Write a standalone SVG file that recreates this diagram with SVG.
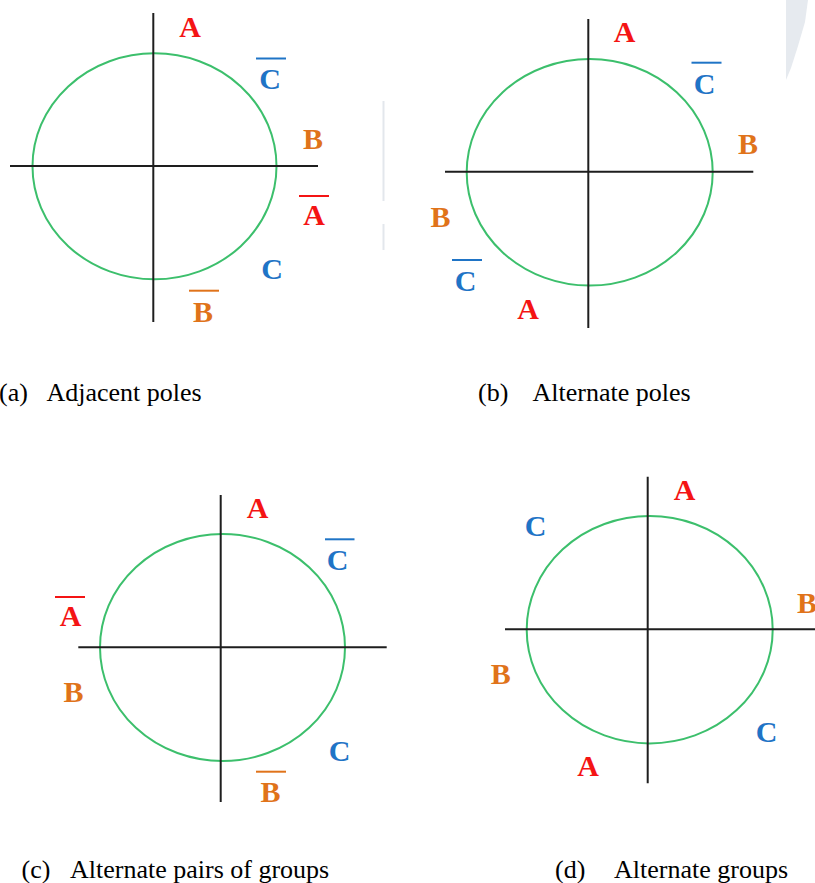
<svg xmlns="http://www.w3.org/2000/svg" width="815" height="883" viewBox="0 0 815 883">
<style>
.ring{fill:none;stroke:#3cbf6c;stroke-width:2}
.ax{stroke:#1e1e1e;stroke-width:2;fill:none}
.lbl{font-size:30px;font-weight:bold;text-anchor:middle}
.ra{fill:#f41414}.ob{fill:#e0731a}.bc{fill:#1f74c6}
.ovr{stroke:#f41414;stroke-width:2}.ovo{stroke:#e0731a;stroke-width:2}.ovb{stroke:#1f74c6;stroke-width:2}
.cap{font-size:26px;fill:#000}
.art{fill:#e6eaef;stroke:none}
</style>
<rect width="815" height="883" fill="#fff"/>
<g id="artifacts">
<path class="art" d="M786,0 L808,0 L805,22 L798,46 L791,68 L786,80 Z"/>
<line x1="383.5" y1="101" x2="383.5" y2="201" stroke="#e3e7ec" stroke-width="2"/>
<line x1="383.5" y1="224" x2="383.5" y2="250" stroke="#e3e7ec" stroke-width="2"/>
</g>
<g id="diagram-a" font-family="Liberation Serif, DejaVu Serif, Times New Roman, serif">
<ellipse class="ring" cx="154.5" cy="166.3" rx="122" ry="113"/>
<line class="ax" x1="153.3" y1="13" x2="153.3" y2="322"/>
<line class="ax" x1="10" y1="166" x2="318" y2="166"/>
<text class="lbl ra" x="190" y="37">A</text>
<line class="ovb" x1="256" y1="58.5" x2="286" y2="58.5"/><text class="lbl bc" x="270" y="89">C</text>
<text class="lbl ob" x="313" y="149">B</text>
<line class="ovr" x1="299" y1="196" x2="329" y2="196"/><text class="lbl ra" x="314" y="225">A</text>
<text class="lbl bc" x="272" y="279">C</text>
<line class="ovo" x1="189" y1="290.7" x2="219" y2="290.7"/><text class="lbl ob" x="203" y="322">B</text>
</g>
<g id="diagram-b" font-family="Liberation Serif, DejaVu Serif, Times New Roman, serif">
<ellipse class="ring" cx="589.7" cy="172.3" rx="123" ry="113.3"/>
<line class="ax" x1="588.3" y1="19" x2="588.3" y2="328"/>
<line class="ax" x1="445" y1="171.7" x2="753.3" y2="171.7"/>
<text class="lbl ra" x="624.7" y="42">A</text>
<line class="ovb" x1="691.5" y1="62.7" x2="721.5" y2="62.7"/><text class="lbl bc" x="704.5" y="94">C</text>
<text class="lbl ob" x="748" y="154">B</text>
<text class="lbl ob" x="440.5" y="227">B</text>
<line class="ovb" x1="452" y1="260" x2="482" y2="260"/><text class="lbl bc" x="465.5" y="291">C</text>
<text class="lbl ra" x="528" y="319">A</text>
</g>
<g id="diagram-c" font-family="Liberation Serif, DejaVu Serif, Times New Roman, serif">
<ellipse class="ring" cx="222.5" cy="647.5" rx="122.5" ry="113.5"/>
<line class="ax" x1="220.7" y1="495" x2="220.7" y2="802"/>
<line class="ax" x1="78.3" y1="647.3" x2="386.7" y2="647.3"/>
<text class="lbl ra" x="257.5" y="518">A</text>
<line class="ovb" x1="325" y1="539.3" x2="354.5" y2="539.3"/><text class="lbl bc" x="337.5" y="570">C</text>
<line class="ovr" x1="55" y1="597" x2="85" y2="597"/><text class="lbl ra" x="70.5" y="626">A</text>
<text class="lbl ob" x="73.5" y="702">B</text>
<text class="lbl bc" x="339.5" y="761">C</text>
<line class="ovo" x1="256" y1="771.7" x2="286" y2="771.7"/><text class="lbl ob" x="270.5" y="802">B</text>
</g>
<g id="diagram-d" font-family="Liberation Serif, DejaVu Serif, Times New Roman, serif">
<ellipse class="ring" cx="649.7" cy="629.7" rx="123" ry="113.7"/>
<line class="ax" x1="647.7" y1="476.7" x2="647.7" y2="783.3"/>
<line class="ax" x1="505" y1="629.3" x2="815" y2="629.3"/>
<text class="lbl ra" x="684.7" y="500">A</text>
<text class="lbl bc" x="535.5" y="536">C</text>
<text class="lbl ob" x="807" y="613">B</text>
<text class="lbl ob" x="500.7" y="684">B</text>
<text class="lbl bc" x="766.5" y="742">C</text>
<text class="lbl ra" x="588" y="776">A</text>
</g>
<g id="captions" font-family="Liberation Serif, Times New Roman, serif">
<text class="cap" x="-1" y="401">(a)</text><text class="cap" x="46.5" y="401">Adjacent poles</text>
<text class="cap" x="478" y="401">(b)</text><text class="cap" x="532.5" y="401">Alternate poles</text>
<text class="cap" x="21.5" y="878">(c)</text><text class="cap" x="70" y="878">Alternate pairs of groups</text>
<text class="cap" x="555" y="878">(d)</text><text class="cap" x="614" y="878">Alternate groups</text>
</g>
</svg>
